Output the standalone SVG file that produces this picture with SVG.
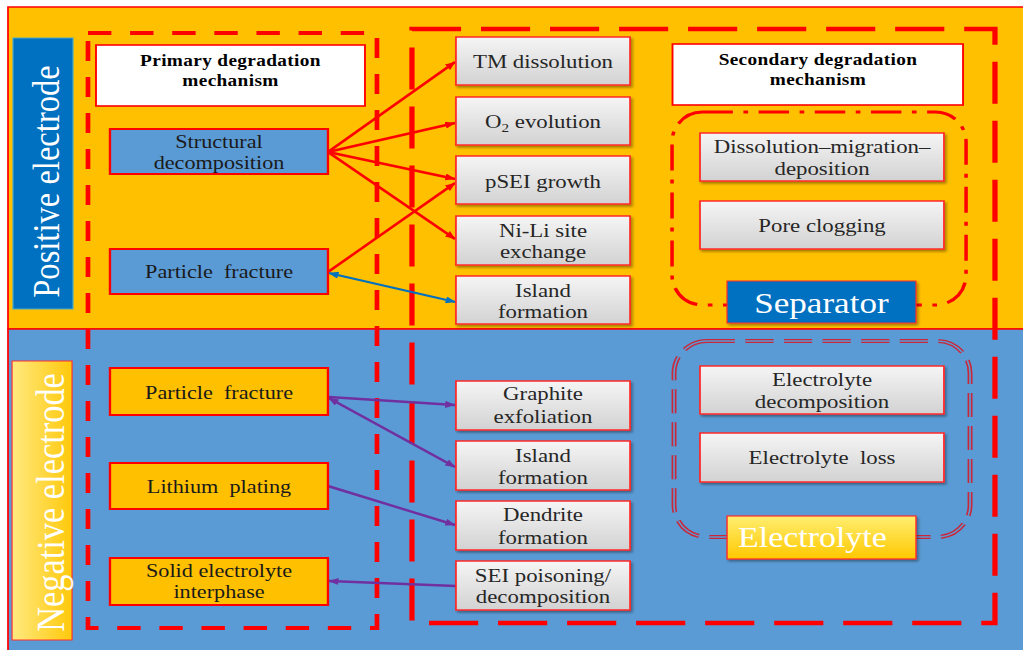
<svg xmlns="http://www.w3.org/2000/svg" width="1023" height="650" viewBox="0 0 1023 650">
  <defs>
    <linearGradient id="gGray" x1="0" y1="0" x2="0" y2="1">
      <stop offset="0" stop-color="#F5F5F5"/>
      <stop offset="1" stop-color="#D2D2D2"/>
    </linearGradient>
    <linearGradient id="gNeg" x1="0" y1="0" x2="1" y2="0">
      <stop offset="0" stop-color="#FFEA80"/>
      <stop offset="1" stop-color="#FFC80A"/>
    </linearGradient>
    <linearGradient id="gEl" x1="0" y1="0" x2="0" y2="1">
      <stop offset="0" stop-color="#FFEE70"/>
      <stop offset="1" stop-color="#FFC800"/>
    </linearGradient>
    <filter id="sh" x="-10%" y="-15%" width="125%" height="145%">
      <feDropShadow dx="1.5" dy="2" stdDeviation="1.2" flood-color="#000" flood-opacity="0.35"/>
    </filter>
    <marker id="aR" viewBox="0 0 10 8" refX="9.5" refY="4" markerWidth="9" markerHeight="7" orient="auto-start-reverse" markerUnits="userSpaceOnUse">
      <path d="M0,0 L10,4 L0,8 z" fill="#FF0000"/>
    </marker>
    <marker id="aB" viewBox="0 0 10 8" refX="9.5" refY="4" markerWidth="9" markerHeight="7" orient="auto-start-reverse" markerUnits="userSpaceOnUse">
      <path d="M0,0 L10,4 L0,8 z" fill="#0070C0"/>
    </marker>
    <marker id="aP" viewBox="0 0 10 8" refX="9.5" refY="4" markerWidth="9" markerHeight="7" orient="auto-start-reverse" markerUnits="userSpaceOnUse">
      <path d="M0,0 L10,4 L0,8 z" fill="#7030A0"/>
    </marker>
  </defs>
  <style>
    .gray{fill:url(#gGray);stroke:#FF2A2A;stroke-width:1.5;filter:url(#sh)}
    .pos{fill:#5B9BD5;stroke:#FF0000;stroke-width:2}
    .neg{fill:#FFC000;stroke:#FF0000;stroke-width:2}
    .title{fill:#FFFFFF;stroke:#FF0000;stroke-width:1.6}
    .t{font-family:"Liberation Serif","Times New Roman",serif;font-size:19.5px;fill:#262626;text-anchor:middle}
    .tl{font-family:"Liberation Serif","Times New Roman",serif;font-size:19px;fill:#1A1A1A;text-anchor:middle}
    .tb{font-family:"Liberation Serif","Times New Roman",serif;font-size:16.5px;font-weight:bold;fill:#000;text-anchor:middle;letter-spacing:0.3px}
    .big{font-family:"Liberation Serif","Times New Roman",serif;fill:#FFFFFF}
    .red{fill:none;stroke:#FF0000;stroke-width:2.4}
  </style>

  <rect x="0" y="0" width="1023" height="650" fill="#FFFFFF"/>

  <g transform="scale(1.17 1)">
    <!-- electrode bands -->
    <g id="bands">
      <rect x="6.84" y="7" width="880" height="322" fill="#FFC000" stroke="#FF0000" stroke-width="1.5"/>
      <rect x="6.84" y="329" width="880" height="340" fill="#5B9BD5" stroke="#FF0000" stroke-width="1.5"/>
    </g>

    <!-- band labels -->
    <g id="positive-label">
      <rect x="11.1" y="38" width="51.3" height="271" fill="#0070C0" stroke="#4BACC6" stroke-width="1"/>
      <text class="big" font-size="32.6" text-anchor="middle" transform="translate(50.4 181.5) rotate(-90)">Positive electrode</text>
    </g>
    <g id="negative-label">
      <rect x="10.3" y="361" width="51.3" height="279" fill="url(#gNeg)" stroke="#FF3030" stroke-width="1"/>
      <text class="big" font-size="34.4" text-anchor="middle" transform="translate(54.7 502.5) rotate(-90)">Negative electrode</text>
    </g>

    <!-- mechanism frames -->
    <g id="frames">
      <rect x="75.2" y="33" width="247" height="595" fill="none" stroke="#FF0000" stroke-width="4" stroke-dasharray="20 16"/>
      <rect x="352.1" y="29" width="498.3" height="594" fill="none" stroke="#FF0000" stroke-width="4.5" stroke-dasharray="42 17"/>
      <rect id="separator-frame" x="574.4" y="112" width="251.3" height="193" rx="26" ry="30" fill="none" stroke="#FF0000" stroke-width="3" stroke-dasharray="26 9 4 9"/>
      <g id="electrolyte-frame">
        <rect x="576.1" y="341" width="253" height="196" rx="28" ry="32" fill="none" stroke="#C8283A" stroke-width="4.2" stroke-dasharray="24 9"/>
        <rect x="576.1" y="341" width="253" height="196" rx="28" ry="32" fill="none" stroke="#5B9BD5" stroke-width="1.4" stroke-dasharray="24 9"/>
      </g>
    </g>

    <!-- connectors -->
    <g id="connectors">
      <line class="red" x1="280.3" y1="152" x2="388.9" y2="62" marker-end="url(#aR)"/>
      <line class="red" x1="280.3" y1="152" x2="388.9" y2="123" marker-end="url(#aR)"/>
      <line class="red" x1="280.3" y1="152" x2="388.9" y2="179" marker-end="url(#aR)"/>
      <line class="red" x1="280.3" y1="152" x2="388.9" y2="239" marker-end="url(#aR)"/>
      <line class="red" x1="280.3" y1="272" x2="388.9" y2="183" marker-end="url(#aR)"/>
      <line x1="281" y1="273" x2="389.2" y2="302" stroke="#0070C0" stroke-width="2" marker-start="url(#aB)" marker-end="url(#aB)"/>
      <line x1="281" y1="397" x2="388.9" y2="405" stroke="#7030A0" stroke-width="2.4" marker-end="url(#aP)"/>
      <line x1="281" y1="398" x2="388.9" y2="467" stroke="#7030A0" stroke-width="2.4" marker-start="url(#aP)" marker-end="url(#aP)"/>
      <line x1="280.3" y1="486" x2="388.9" y2="525" stroke="#7030A0" stroke-width="2.4" marker-end="url(#aP)"/>
      <line x1="389.7" y1="586" x2="281" y2="581" stroke="#7030A0" stroke-width="2.4" marker-end="url(#aP)"/>
    </g>

    <!-- primary mechanisms -->
    <g id="primary-title">
      <rect class="title" x="82.05" y="45" width="229.9" height="61"/>
      <text class="tb" x="197" y="66">Primary degradation</text>
      <text class="tb" x="197" y="86">mechanism</text>
    </g>
    <g id="structural-decomposition">
      <rect class="pos" x="94" y="129" width="186.3" height="45"/>
      <text class="tl" x="187.2" y="148">Structural</text>
      <text class="tl" x="187.2" y="169">decomposition</text>
    </g>
    <g id="particle-fracture-positive">
      <rect class="pos" x="94" y="249" width="186.3" height="45"/>
      <text class="tl" x="187.2" y="278" word-spacing="4.75">Particle fracture</text>
    </g>
    <g id="particle-fracture-negative">
      <rect class="neg" x="94" y="368" width="186.3" height="47"/>
      <text class="tl" x="187.2" y="399" word-spacing="4.75">Particle fracture</text>
    </g>
    <g id="lithium-plating">
      <rect class="neg" x="94" y="463" width="186.3" height="46"/>
      <text class="tl" x="187.2" y="493" word-spacing="4.75">Lithium plating</text>
    </g>
    <g id="solid-electrolyte-interphase">
      <rect class="neg" x="94" y="558" width="186.3" height="47"/>
      <text class="tl" x="187.2" y="577">Solid electrolyte</text>
      <text class="tl" x="187.2" y="598">interphase</text>
    </g>

    <!-- positive electrode outcomes -->
    <g id="tm-dissolution">
      <rect class="gray" x="389.7" y="37" width="148.8" height="48"/>
      <text class="t" x="464.1" y="68">TM dissolution</text>
    </g>
    <g id="o2-evolution">
      <rect class="gray" x="389.7" y="97" width="148.8" height="48"/>
      <text class="t" x="464.1" y="128">O<tspan font-size="13" dy="4">2</tspan><tspan dy="-4"> evolution</tspan></text>
    </g>
    <g id="psei-growth">
      <rect class="gray" x="389.7" y="156" width="148.8" height="48"/>
      <text class="t" x="464.1" y="188">pSEI growth</text>
    </g>
    <g id="ni-li-exchange">
      <rect class="gray" x="389.7" y="216" width="148.8" height="49"/>
      <text class="t" x="464.1" y="237">Ni-Li site</text>
      <text class="t" x="464.1" y="258">exchange</text>
    </g>
    <g id="island-formation-positive">
      <rect class="gray" x="389.7" y="276" width="148.8" height="48"/>
      <text class="t" x="464.1" y="297">Island</text>
      <text class="t" x="464.1" y="318">formation</text>
    </g>

    <!-- negative electrode outcomes -->
    <g id="graphite-exfoliation">
      <rect class="gray" x="389.7" y="381" width="148.8" height="49"/>
      <text class="t" x="464.1" y="400">Graphite</text>
      <text class="t" x="464.1" y="423">exfoliation</text>
    </g>
    <g id="island-formation-negative">
      <rect class="gray" x="389.7" y="441" width="148.8" height="49"/>
      <text class="t" x="464.1" y="462">Island</text>
      <text class="t" x="464.1" y="484">formation</text>
    </g>
    <g id="dendrite-formation">
      <rect class="gray" x="389.7" y="501" width="148.8" height="49"/>
      <text class="t" x="464.1" y="521">Dendrite</text>
      <text class="t" x="464.1" y="544">formation</text>
    </g>
    <g id="sei-poisoning">
      <rect class="gray" x="389.7" y="561" width="148.8" height="49"/>
      <text class="t" x="464.1" y="582">SEI poisoning/</text>
      <text class="t" x="464.1" y="603">decomposition</text>
    </g>

    <!-- secondary mechanisms -->
    <g id="secondary-title">
      <rect class="title" x="574.8" y="44" width="248.3" height="61"/>
      <text class="tb" x="699.1" y="65">Secondary degradation</text>
      <text class="tb" x="699.1" y="85">mechanism</text>
    </g>
    <g id="dissolution-migration-deposition">
      <rect class="gray" x="598.3" y="133" width="208.5" height="48"/>
      <text class="t" x="702.6" y="153">Dissolution–migration–</text>
      <text class="t" x="702.6" y="175">deposition</text>
    </g>
    <g id="pore-clogging">
      <rect class="gray" x="598.3" y="201" width="208.5" height="48"/>
      <text class="t" x="702.6" y="232">Pore clogging</text>
    </g>
    <g id="separator-label">
      <rect x="621.4" y="281" width="161.5" height="42" fill="#0070C0" stroke="#FF2A2A" stroke-width="1" filter="url(#sh)"/>
      <text class="big" font-size="30" text-anchor="middle" x="702.1" y="313">Separator</text>
    </g>
    <g id="electrolyte-decomposition">
      <rect class="gray" x="598.3" y="366" width="208.5" height="48"/>
      <text class="t" x="702.6" y="386">Electrolyte</text>
      <text class="t" x="702.6" y="408">decomposition</text>
    </g>
    <g id="electrolyte-loss">
      <rect class="gray" x="598.3" y="433" width="208.5" height="49"/>
      <text class="t" x="702.6" y="464" word-spacing="4.75">Electrolyte loss</text>
    </g>
    <g id="electrolyte-label">
      <rect x="621.4" y="516" width="161.5" height="43" fill="url(#gEl)" stroke="#FF2A2A" stroke-width="1.2" filter="url(#sh)"/>
      <text class="big" font-size="29" x="630.8" y="547">Electrolyte</text>
    </g>
  </g>
</svg>
